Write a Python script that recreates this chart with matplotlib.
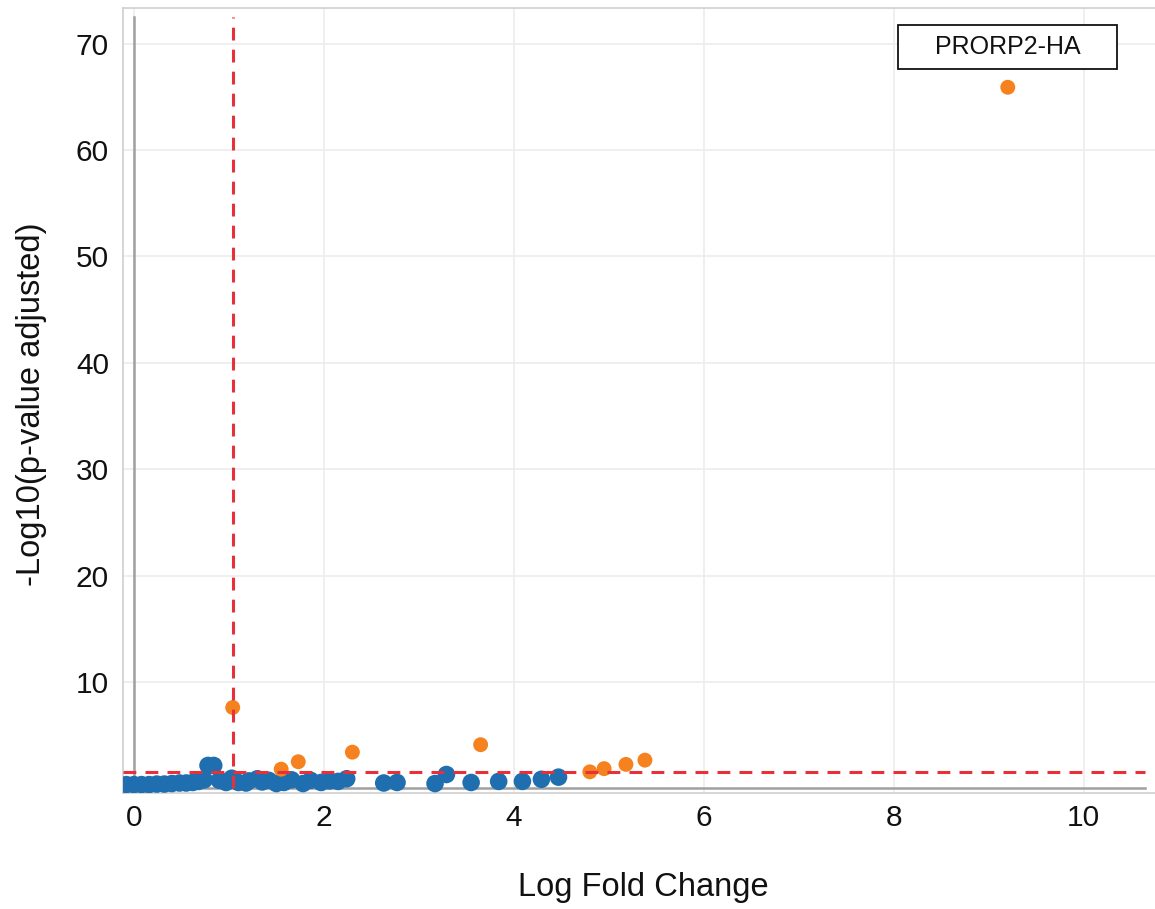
import matplotlib
matplotlib.use("Agg")
import matplotlib.pyplot as plt
from matplotlib.patches import Rectangle

plt.rcParams['font.family'] = ['Liberation Sans', 'DejaVu Sans']

# Data
blue_x = [-0.08, 0.0, 0.08, 0.16, 0.24, 0.32, 0.40, 0.48, 0.55, 0.62, 0.68, 0.74,
          0.78, 0.84, 0.90, 0.97, 1.03, 1.10, 1.18, 1.21, 1.30, 1.35, 1.42, 1.50,
          1.58, 1.66, 1.78, 1.86, 1.97, 2.06, 2.15, 2.24,
          2.63, 2.77, 3.17, 3.29, 3.55, 3.84, 4.09, 4.29, 4.47]
blue_y = [0.35, 0.35, 0.35, 0.35, 0.40, 0.40, 0.45, 0.50, 0.50, 0.55, 0.65, 0.80,
          2.15, 2.15, 0.75, 0.55, 0.95, 0.55, 0.50, 0.70, 0.90, 0.60, 0.75, 0.45,
          0.55, 0.80, 0.45, 0.75, 0.55, 0.70, 0.65, 0.90,
          0.50, 0.55, 0.45, 1.30, 0.55, 0.65, 0.65, 0.85, 1.05]
orange_x = [1.04, 1.55, 1.73, 2.30, 3.65, 4.80, 4.95, 5.18, 5.38, 9.20]
orange_y = [7.60, 1.80, 2.50, 3.40, 4.10, 1.55, 1.85, 2.25, 2.65, 65.9]
x_ticks = [0, 2, 4, 6, 8, 10]
y_ticks = [10, 20, 30, 40, 50, 60, 70]
fc_threshold = 1.04
p_threshold = 1.5
label_text = "PRORP2-HA"

fig = plt.figure(figsize=(11.55, 9.09), dpi=100)
ax = fig.add_axes([0.1065, 0.1276, 0.8935, 0.8636])
AX_W = 0.8935 * 1155
AX_H = 0.8636 * 909

ax.set_xlim(-0.115, 10.75)
ax.set_ylim(-0.44, 73.35)

ax.set_xticks(x_ticks)
ax.set_yticks(y_ticks)
ax.grid(True, color='#ececec', linewidth=1.2, zorder=0)
ax.set_axisbelow(True)

for side in ['left', 'top', 'bottom']:
    ax.spines[side].set_color('#cfcfcf')
    ax.spines[side].set_linewidth(1.2)
ax.spines['right'].set_visible(False)

ax.tick_params(length=0, labelsize=21.5, pad=10, colors='#111111')
ax.tick_params(axis='x', pad=8)

# inner axis lines
ax.axvline(0, ymin=0.006, ymax=0.988, color='#a0a0a0', linewidth=1.8, zorder=1)
ax.axhline(0, xmin=0.0, xmax=0.99, color='#a0a0a0', linewidth=1.8, zorder=1)

ax.scatter(blue_x, blue_y, s=160, color='#1f6fb0', edgecolors='none', zorder=3)
ax.scatter(orange_x, orange_y, s=115, color='#f5821f', edgecolors='none', zorder=4)

ax.axhline(p_threshold, color='#e8303a', linewidth=2.2, dashes=(4.2, 3.0), zorder=5, xmax=0.99)
ax.axvline(fc_threshold, ymin=0.006, ymax=0.988, color='#e8303a', linewidth=2.2,
           dashes=(4.2, 3.0), zorder=5)

# annotation box
bx0 = (898 - 123) / AX_W
by0 = (793 - 69) / AX_H
bw = 219 / AX_W
bh = 44 / AX_H
ax.add_patch(Rectangle((bx0, by0), bw, bh, transform=ax.transAxes, fill=True,
                       facecolor='white', edgecolor='#111111', linewidth=1.3, zorder=6))
ax.text(bx0 + bw / 2, by0 + bh / 2, label_text, transform=ax.transAxes, ha='center',
        va='center', fontsize=18, color='#111111', zorder=7)

ax.set_xlabel('Log Fold Change', fontsize=23.5, color='#111111')
ax.set_ylabel('-Log10(p-value adjusted)', fontsize=23.5, color='#111111')
ax.xaxis.set_label_coords((643 - 123) / AX_W, -0.10)
ax.yaxis.set_label_coords(-0.074, 0.495)

fig.savefig('out.png', dpi=100)
